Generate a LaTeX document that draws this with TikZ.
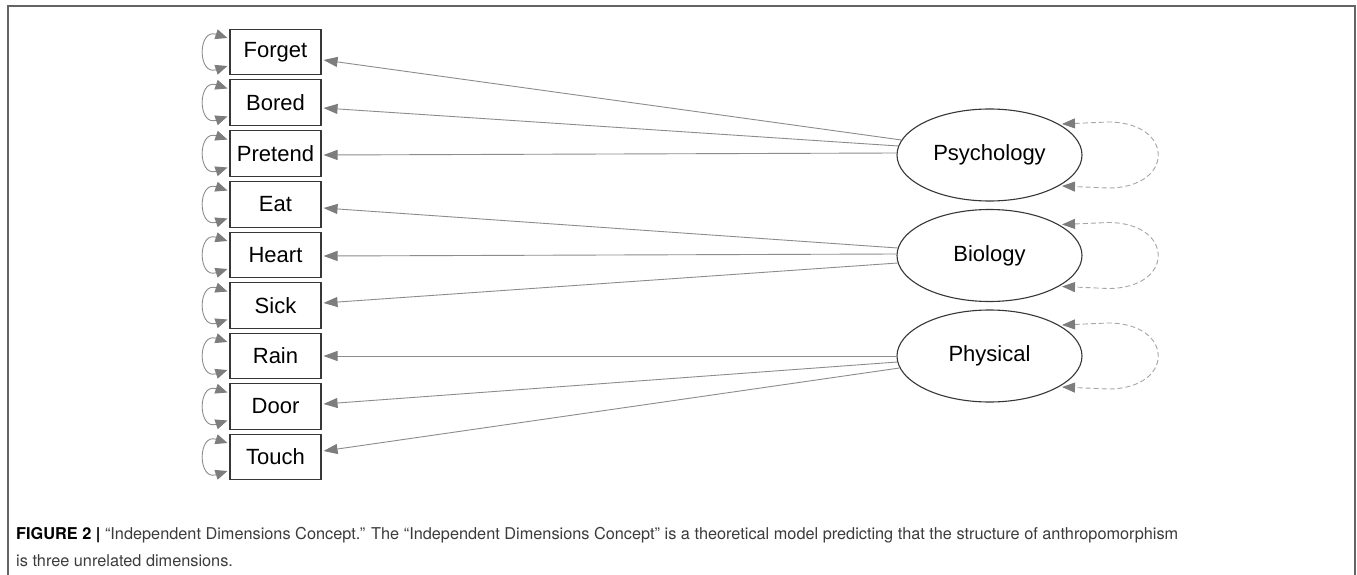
\documentclass[tikz,border=0pt]{standalone}
\usepackage{fontspec}
\setmainfont{Liberation Sans}
\newfontfamily\capfont{TeX Gyre Heros}
\usetikzlibrary{arrows.meta,calc,shapes.geometric}
\definecolor{edgegray}{RGB}{140,140,140}
\definecolor{headgray}{RGB}{125,125,125}
\definecolor{bordergray}{RGB}{55,55,55}
\definecolor{dashgray}{RGB}{165,165,165}
\definecolor{framegray}{RGB}{100,100,100}
\definecolor{captext}{RGB}{60,60,60}
\begin{document}
\begin{tikzpicture}[x=1pt,y=-1pt,
  obs/.style={draw=bordergray,line width=1.1pt,rectangle,minimum width=91pt,minimum height=45.5pt,inner sep=0pt,font=\fontsize{22}{26}\selectfont},
  lat/.style={draw=bordergray,line width=1.1pt,ellipse,minimum width=185pt,minimum height=92pt,inner sep=0pt,font=\fontsize{22}{26}\selectfont},
  load/.style={draw=edgegray,line width=0.9pt,-{Triangle[length=14pt,width=10pt,color=headgray]}},
  resid/.style={draw=edgegray,line width=0.9pt,{Triangle[length=12pt,width=10pt,color=headgray]}-{Triangle[length=12pt,width=10pt,color=headgray]}},
  varloop/.style={draw=dashgray,line width=0.9pt,dash pattern=on 5pt off 3pt,{Triangle[length=13pt,width=10pt,color=headgray]}-{Triangle[length=13pt,width=10pt,color=headgray]}},
  frameline/.style={draw=framegray,line width=1.6pt},
  captxt/.style={anchor=base west,inner sep=0pt,text=captext,font=\capfont\fontsize{16.3}{20}\selectfont}
]
\useasboundingbox (0,0) rectangle (1357,575);
\fill[white] (0,0) rectangle (1357,575);
% outer frame (open at the bottom)
\draw[frameline] (8,575) -- (8,6) -- (1355,6) -- (1355,575);

% observed variables
\node[obs] (forget)  at (275.5,52)    {Forget};
\node[obs] (bored)   at (275.5,102.5) {Bored};
\node[obs] (pretend) at (275.5,153.5) {Pretend};
\node[obs] (eat)     at (275.5,204.5) {Eat};
\node[obs] (heart)   at (275.5,255)   {Heart};
\node[obs] (sick)    at (275.5,305.5) {Sick};
\node[obs] (rain)    at (275.5,356)   {Rain};
\node[obs] (door)    at (275.5,406.5) {Door};
\node[obs] (touch)   at (275.5,457)   {Touch};

% latent variables
\node[lat] (psy) at (989.5,155)   {Psychology};
\node[lat] (bio) at (989.5,255.5) {Biology};
\node[lat] (phy) at (989.5,356)   {Physical};

% loadings
\draw[load] ($(psy.west)+(5,-15)$)  -- ($(forget.east)+(2,8)$);
\draw[load] ($(psy.west)+(2,-9)$)   -- ($(bored.east)+(2,5.5)$);
\draw[load] ($(psy.west)+(0,-2)$)   -- ($(pretend.east)+(2,1.5)$);
\draw[load] ($(bio.west)+(1.3,-7.5)$) -- ($(eat.east)+(2,3.5)$);
\draw[load] ($(bio.west)+(0,-1.5)$) -- ($(heart.east)+(2,1)$);
\draw[load] ($(bio.west)+(1.3,7.5)$)  -- ($(sick.east)+(2,-2.5)$);
\draw[load] ($(phy.west)+(0,0)$)    -- ($(rain.east)+(2,0)$);
\draw[load] ($(phy.west)+(1,6)$)    -- ($(door.east)+(2,-2.5)$);
\draw[load] ($(phy.west)+(3,12)$)   -- ($(touch.east)+(2,-6)$);

% residual variances of observed variables
\foreach \b in {forget,bored,pretend,eat,heart,sick,rain,door,touch}
  \draw[resid] ($(\b.west)+(-2,-14)$) .. controls +(-30,-10) and +(-30,10) .. ($(\b.west)+(-2,14)$);

% variances of latent variables
\foreach \l in {psy,bio,phy}
  \draw[varloop] ($(\l.center)+(72.5,-31)$) -- ($(\l.center)+(118.5,-33)$)
     .. controls +(67,0) and +(67,0) .. ($(\l.center)+(118.5,33)$) -- ($(\l.center)+(72.5,31)$);

% caption
\node[captxt] (cap1) at (16,539) {{\color{black}\bfseries FIGURE 2 |} “Independent Dimensions Concept.” The “Independent Dimensions Concept” is a theoretical model predicting that the structure of anthropomorphism};
\node[captxt] (cap2) at (16,566) {is three unrelated dimensions.};
\end{tikzpicture}
\end{document}
